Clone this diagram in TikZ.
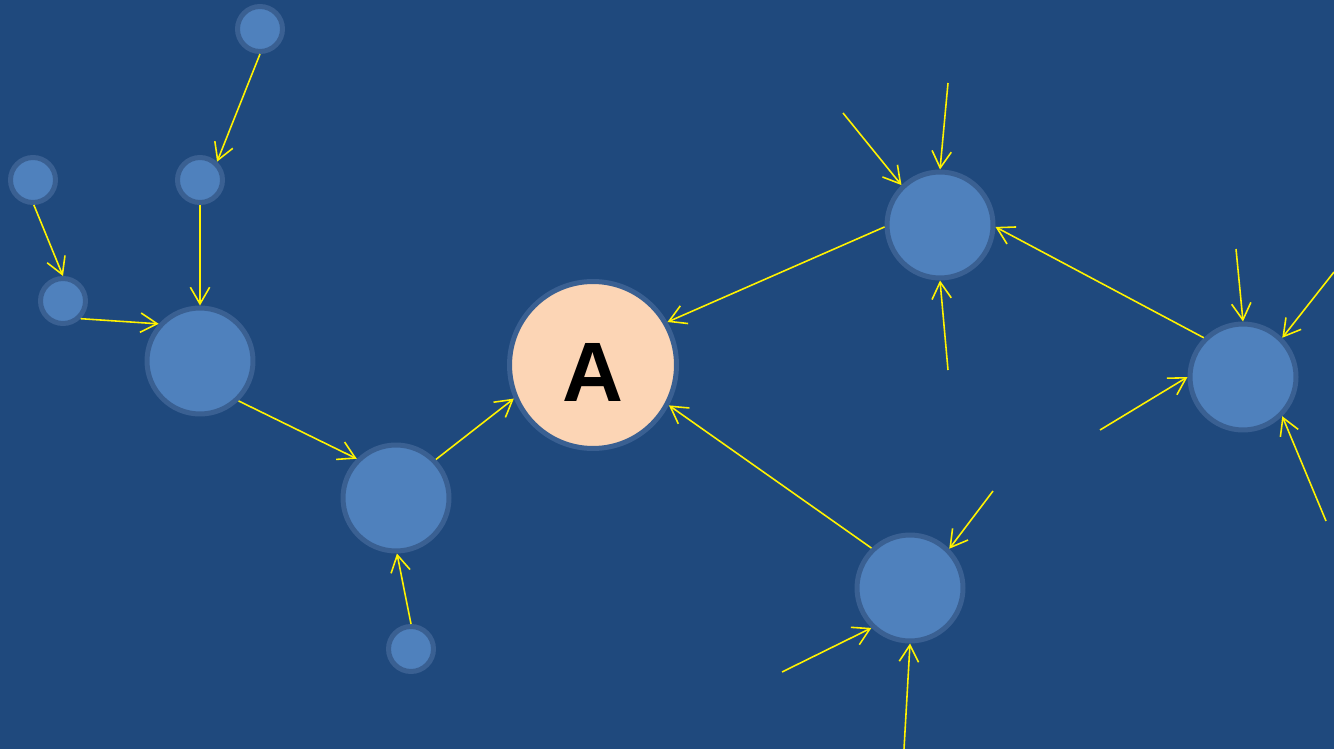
\documentclass[tikz,border=0pt]{standalone}
\usepackage{fontspec}
\setmainfont{Liberation Sans}
\usepackage{tikz}
\usetikzlibrary{arrows.meta}

\definecolor{bgblue}{RGB}{31,73,125}
\definecolor{nodeblue}{RGB}{79,129,189}
\definecolor{ringblue}{RGB}{58,96,146}
\definecolor{peach}{RGB}{252,213,181}

\begin{document}
\begin{tikzpicture}
  [x=0.02cm,y=-0.02cm,
   every node/.style={draw=ringblue,circle,line width=0.1cm,inner sep=0pt},
   big/.style={fill=nodeblue,minimum size=2.12cm},
   small/.style={fill=nodeblue,minimum size=0.9cm},
   centre/.style={fill=peach,minimum size=3.34cm,text height=41pt,
                  font=\fontsize{48}{48}\selectfont\bfseries}]

  \fill[bgblue] (0,0) rectangle (1334,749);
  \useasboundingbox (0,0) rectangle (1334,749);

  % left branch
  \node[small] (t)  at (260,29)  {};
  \node[small] (s2) at (200,180) {};
  \node[small] (s1) at (33,180)  {};
  \node[small] (s3) at (63,301)  {};
  \node[big]   (l)  at (200,361) {};
  \node[big]   (b)  at (396,498) {};
  \node[small] (u)  at (411,649) {};

  % centre
  \node[centre] (a) at (593,365) {A};

  % right side
  \node[big] (r1) at (940,225) {};
  \node[big] (r2) at (1243,377) {};
  \node[big] (r3) at (910,588) {};

  % loose ends
  \coordinate (p1) at (843,113);
  \coordinate (p2) at (948,83);
  \coordinate (p3) at (948,370);
  \coordinate (q1) at (1236,249);
  \coordinate (q2) at (1334,272);
  \coordinate (q3) at (1100,430);
  \coordinate (q4) at (1326,521);
  \coordinate (w1) at (993,491);
  \coordinate (w2) at (782,672);
  \coordinate (w3) at (904,749);

  \path[->, >={Straight Barb[length=9.5pt,width=11pt]}, draw=yellow, line width=0.9pt]
        (t.-90)  edge (s2.47)
        (s1.-88) edge (s3.90)
        (s2.-90) edge (l.90)
        (s3.-45) edge (l.138)
        (l.-46)  edge (b.135)
        (b.44)   edge (a.203)
        (u.90)   edge (b.-89)
        (r1.182) edge (a.30)
        (r3.134) edge (a.-28)
        (r2.135) edge (r1.-2)
        (p1)     edge (r1.134)
        (p2)     edge (r1.90)
        (p3)     edge (r1.-90)
        (q1)     edge (r2.90)
        (q2)     edge (r2.45)
        (q3)     edge (r2.180)
        (q4)     edge (r2.-45)
        (w1)     edge (r3.45)
        (w2)     edge (r3.-134)
        (w3)     edge (r3.-90);
\end{tikzpicture}
\end{document}
